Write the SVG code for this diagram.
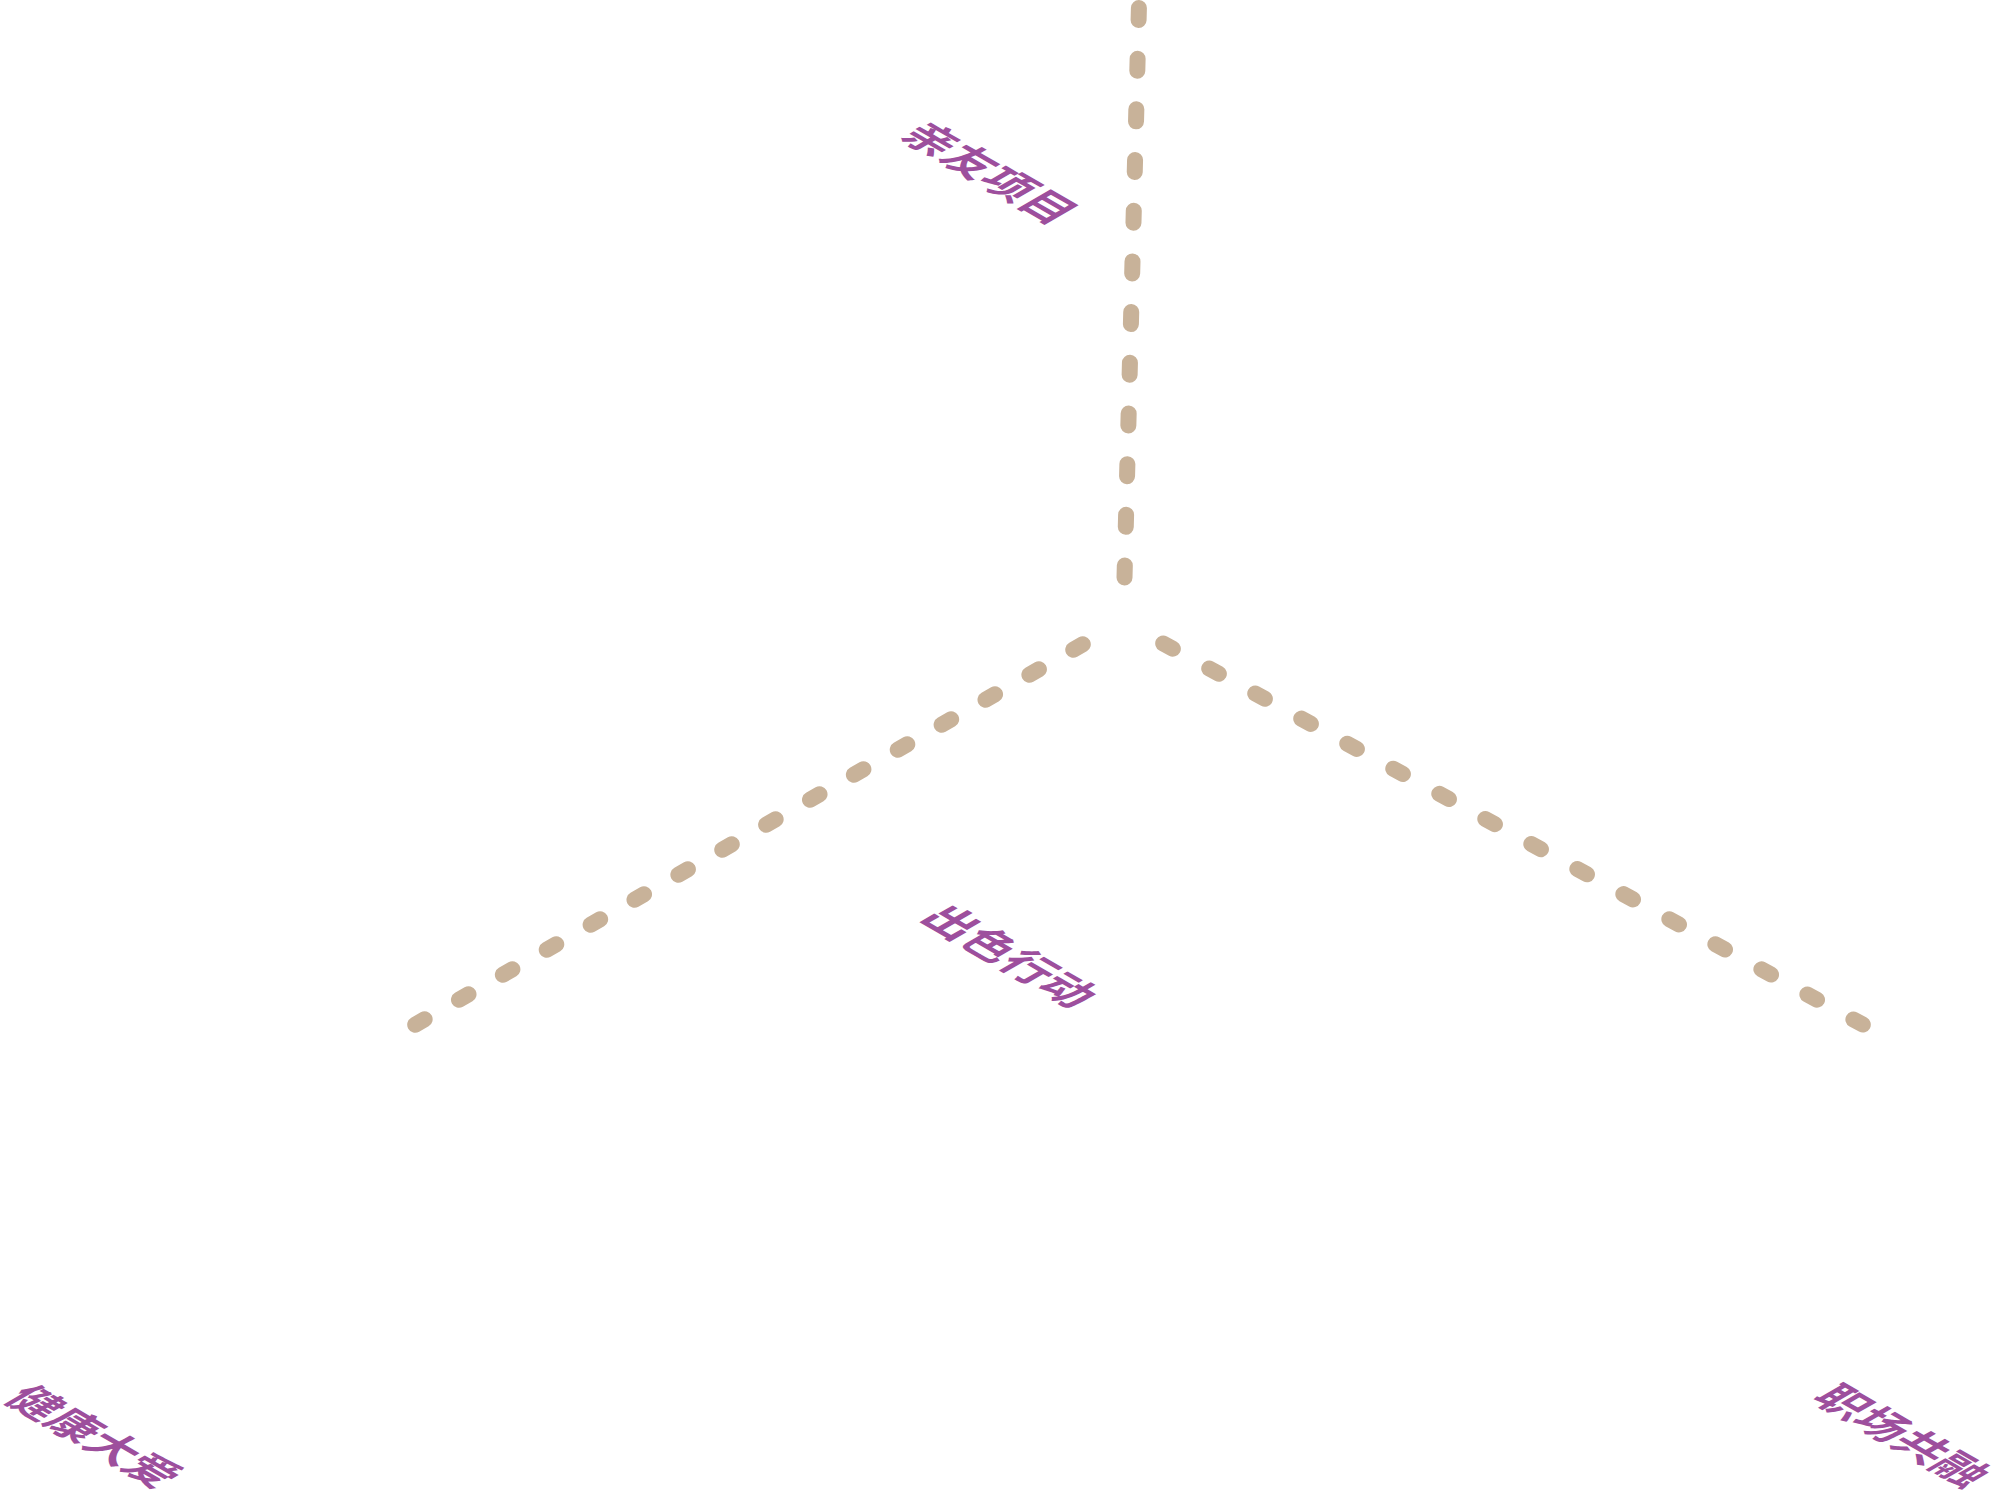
<svg xmlns="http://www.w3.org/2000/svg" width="1996" height="1495" viewBox="0 0 1996 1495">
  <style>
    .lbl { font-family: "Noto Sans CJK SC", "Noto Sans", sans-serif; font-size: 45px; font-weight: bold; fill: #9d4f9d; }
    .dash { fill: none; stroke: #c8b299; stroke-width: 16; stroke-linecap: round; }
  </style>
  <rect width="1996" height="1495" fill="#ffffff"/>
  <g id="connectors">
    <line class="dash" x1="1138.9" y1="8" x2="1124.5" y2="578" stroke-dasharray="12 38.7"/>
    <line class="dash" x1="1082.8" y1="644.3" x2="415.2" y2="1024.7" stroke-dasharray="11 39.5"/>
    <line class="dash" x1="1163.2" y1="643.4" x2="1862.8" y2="1024.6" stroke-dasharray="11 41.4"/>
  </g>
  <g id="node-qinyou">
    <text class="lbl" transform="matrix(0.866 0.5 -0.866 0.5 897.5 136.5)">亲友项目</text>
  </g>
  <g id="node-chuse">
    <text class="lbl" transform="matrix(0.866 0.5 -0.866 0.5 917.5 919.5)">出色行动</text>
  </g>
  <g id="node-jiankang">
    <text class="lbl" transform="matrix(0.866 0.5 -0.866 0.5 2 1400)">健康大爱</text>
  </g>
  <g id="node-zhichang">
    <text class="lbl" transform="matrix(0.866 0.5 -0.866 0.5 1810 1399)">职场共融</text>
  </g>
</svg>
